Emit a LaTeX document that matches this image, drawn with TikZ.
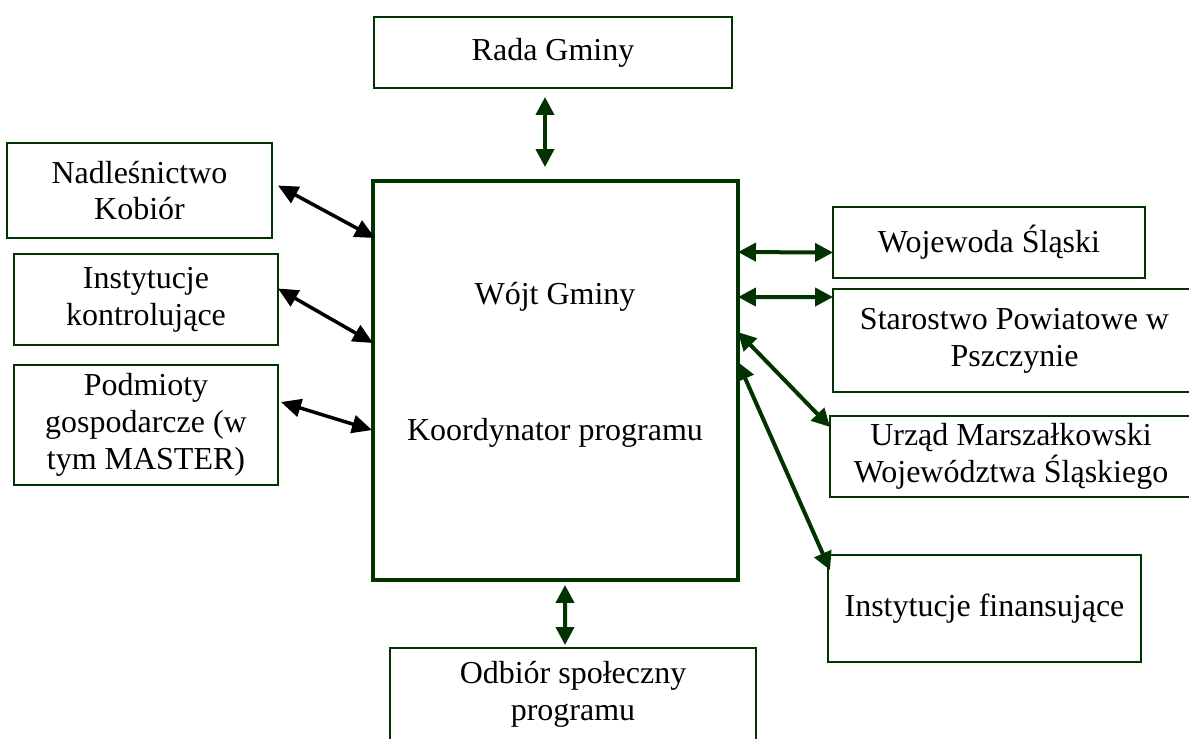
\documentclass[tikz,border=0pt]{standalone}
\usepackage{fontspec}
\setmainfont{Liberation Serif}
\usetikzlibrary{arrows.meta}
\definecolor{dgreen}{RGB}{0,51,0}

\begin{document}
\begin{tikzpicture}[x=0.02cm, y=-0.02cm,
    box/.style={draw=dgreen, line width=0.04cm, align=center, inner sep=0pt, outer sep=0pt,
        font=\fontsize{18.2}{21}\selectfont},
    txt/.style={font=\fontsize{18.2}{21}\selectfont},
    garrow/.style={dgreen, line width=0.08cm,
        {Triangle[length=0.36cm, width=0.36cm]}-{Triangle[length=0.36cm, width=0.36cm]}},
    karrow/.style={black, line width=0.07cm,
        {Triangle[length=0.4cm, width=0.36cm]}-{Triangle[length=0.4cm, width=0.36cm]}}
    ]
    \clip (0,0) rectangle (1189,738);
    \useasboundingbox (0,0) rectangle (1189,738);

    % centre
    \node[box, line width=0.07cm, minimum width=7.3cm, minimum height=7.98cm] (wojt) at (555.5,380.5) {};
    \node[txt] (wojtA) at (555,297) {Wójt Gminy};
    \node[txt] (wojtB) at (555,433) {Koordynator programu};

    % top and bottom
    \node[box, minimum width=7.16cm, minimum height=1.42cm] (rada) at (553,52.5) {Rada Gminy};
    \node[box, minimum width=7.32cm, minimum height=1.84cm] (odb) at (573,694) {Odbiór społeczny\\programu};

    % left
    \node[box, minimum width=5.3cm, minimum height=1.9cm] (nad) at (139.5,190.5) {Nadleśnictwo\\Kobiór};
    \node[box, minimum width=5.28cm, minimum height=1.82cm] (kon) at (146,299.5) {Instytucje\\kontrolujące};
    \node[box, minimum width=5.28cm, minimum height=2.4cm] (pod) at (146,425) {Podmioty\\gospodarcze (w\\tym MASTER)};

    % right
    \node[box, minimum width=6.24cm, minimum height=1.42cm] (woj) at (989,242.5) {Wojewoda Śląski};
    \node[box, minimum width=7.26cm, minimum height=2.06cm] (sta) at (1014.5,340.5) {Starostwo Powiatowe w\\Pszczynie};
    \node[box, minimum width=7.24cm, minimum height=1.62cm] (urz) at (1011,456.5) {Urząd Marszałkowski\\Województwa Śląskiego};
    \node[box, minimum width=6.26cm, minimum height=2.14cm] (fin) at (984.5,608.5) {Instytucje finansujące};

    % connectors
    \draw[garrow] ([shift={(-8,9)}]rada.south) -- ([shift={(-10.5,-14)}]wojt.north);
    \draw[garrow] ([shift={(9.5,5)}]wojt.south) -- ([shift={(-8,-3)}]odb.north);

    \draw[karrow] ([shift={(6,-5)}]nad.east) -- ([shift={(2,57)}]wojt.north west);
    \draw[karrow] ([shift={(0,-11)}]kon.east) -- ([shift={(0,162)}]wojt.north west);
    \draw[karrow] ([shift={(3,37)}]pod.north east) -- ([shift={(-1,249)}]wojt.north west);

    \draw[garrow] ([shift={(0,71)}]wojt.north east) -- ([shift={(0,10)}]woj.west);
    \draw[garrow] ([shift={(0,116)}]wojt.north east) -- ([shift={(0,8)}]sta.north west);
    \draw[garrow] ([shift={(0,151)}]wojt.north east) -- ([shift={(0,11)}]urz.north west);
    \draw[garrow] ([shift={(0,181)}]wojt.north east) -- ([shift={(2,15)}]fin.north west);
\end{tikzpicture}
\end{document}
